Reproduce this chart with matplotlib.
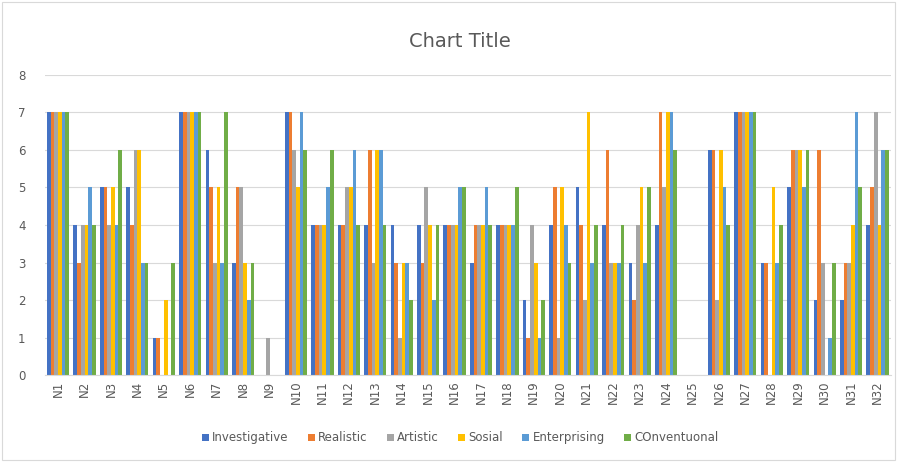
import matplotlib.pyplot as plt
import numpy as np

labels = ['N%d' % i for i in range(1, 33)]
series = ['Investigative', 'Realistic', 'Artistic', 'Sosial', 'Enterprising', 'COnventuonal']
colors = ['#4472C4', '#ED7D31', '#A5A5A5', '#FFC000', '#5B9BD5', '#70AD47']

investigative = [7, 4, 5, 5, 1, 7, 6, 3, 0, 7, 4, 4, 4, 4, 4, 4, 3, 4, 2, 4, 5, 4, 3, 4, 0, 6, 7, 3, 5, 2, 2, 4]
realistic     = [7, 3, 5, 4, 1, 7, 5, 5, 0, 7, 4, 4, 6, 3, 3, 4, 4, 4, 1, 5, 4, 6, 2, 7, 0, 6, 7, 3, 6, 6, 3, 5]
artistic      = [7, 4, 4, 6, 0, 7, 3, 5, 1, 6, 4, 5, 3, 1, 5, 4, 4, 4, 4, 1, 2, 3, 4, 5, 0, 2, 7, 0, 6, 3, 3, 7]
sosial        = [7, 4, 5, 6, 2, 7, 5, 3, 0, 5, 4, 5, 6, 3, 4, 4, 4, 4, 3, 5, 7, 3, 5, 7, 0, 6, 7, 5, 6, 0, 4, 4]
enterprising  = [7, 5, 4, 3, 0, 7, 3, 2, 0, 7, 5, 6, 6, 3, 2, 5, 5, 4, 1, 4, 3, 3, 3, 7, 0, 5, 7, 3, 5, 1, 7, 6]
conventional  = [7, 4, 6, 3, 3, 7, 7, 3, 0, 6, 6, 4, 4, 2, 4, 5, 4, 5, 2, 3, 4, 4, 5, 6, 0, 4, 7, 4, 6, 3, 5, 6]
data = [investigative, realistic, artistic, sosial, enterprising, conventional]

fig = plt.figure(figsize=(8.97, 4.62), dpi=100)
ax = fig.add_axes([0.050, 0.188, 0.943, 0.650])

x = np.arange(len(labels))
grp = 0.84
bw = grp / len(series)
for i, vals in enumerate(data):
    ax.bar(x - grp / 2 + bw * (i + 0.5), vals, width=bw, color=colors[i], label=series[i])

ax.set_xlim(-0.5, len(labels) - 0.5)
ax.set_ylim(0, 8)
ax.set_yticks(range(0, 9))
ax.set_xticks(x)
ax.set_xticklabels(labels, rotation=90, fontsize=8.5, color='#595959')
ax.tick_params(axis='y', labelsize=8.5, colors='#595959', length=0, pad=14)
ax.tick_params(axis='x', length=0, pad=4)
ax.grid(axis='y', color='#D9D9D9', linewidth=0.8)
ax.set_axisbelow(True)
for s in ['top', 'right', 'left']:
    ax.spines[s].set_visible(False)
ax.spines['bottom'].set_color('#D9D9D9')

fig.text(0.513, 0.91, 'Chart Title', ha='center', va='center', fontsize=14, color='#595959')
fig.legend(loc='center', bbox_to_anchor=(0.513, 0.052), ncol=6, frameon=False,
           fontsize=8.5, handlelength=0.6, handleheight=0.6, handletextpad=0.3,
           columnspacing=1.6, labelcolor='#595959')

fig.patches.append(plt.Rectangle((0.002, 0.004), 0.996, 0.992, transform=fig.transFigure,
                                 fill=False, edgecolor='#D9D9D9', linewidth=0.8))

plt.savefig('out.png', dpi=100)
